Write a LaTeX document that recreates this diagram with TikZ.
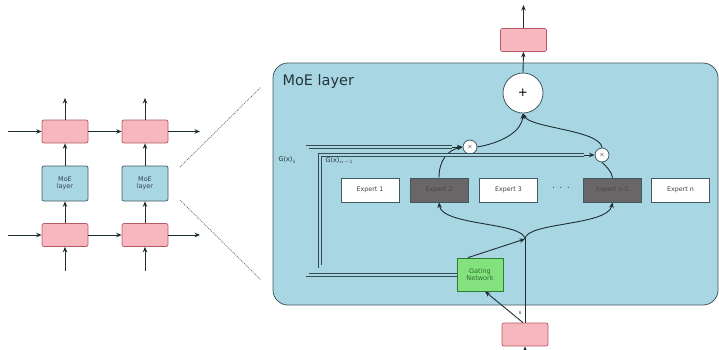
\documentclass[tikz,border=0pt]{standalone}
\usepackage{fontspec}
\setmainfont{DejaVu Sans}
\usetikzlibrary{arrows.meta,calc}
\definecolor{layerblue}{HTML}{A9D6E3}
\definecolor{layeredge}{HTML}{3E5A63}
\definecolor{rnnpink}{HTML}{F6B7BF}
\definecolor{rnnedge}{HTML}{B55A66}
\definecolor{gatefill}{HTML}{84E27E}
\definecolor{gateedge}{HTML}{2E7D32}
\definecolor{gatetext}{HTML}{2E6B2E}
\definecolor{selfill}{HTML}{6A6667}
\definecolor{seltext}{HTML}{4A4546}
\definecolor{inkline}{HTML}{1E2E33}
\tikzset{
  arr/.style={draw=inkline, line width=0.9pt, -{Stealth[length=5.5pt,width=4.5pt]}},
  plain/.style={draw=inkline, line width=0.9pt},
  rnn/.style={draw=rnnedge, fill=rnnpink, line width=0.7pt, rounded corners=2pt,
    minimum width=46pt, minimum height=23pt, inner sep=0pt},
  moesmall/.style={draw=layeredge, fill=layerblue, line width=0.7pt, rounded corners=2pt,
    minimum width=46pt, minimum height=35pt, inner sep=0pt, align=center,
    font=\fontsize{6.5pt}{7.5pt}\selectfont, text=layeredge!80!black},
  expert/.style={draw=layeredge, fill=white, line width=0.7pt,
    minimum width=58pt, minimum height=24pt, inner sep=0pt,
    font=\fontsize{6.3pt}{7.5pt}\selectfont, text=black!75},
  chosen/.style={expert, fill=selfill, text=seltext},
  gatebox/.style={draw=gateedge, fill=gatefill, line width=0.8pt,
    minimum width=46pt, minimum height=33pt, inner sep=0pt, align=center,
    font=\fontsize{6.5pt}{7.5pt}\selectfont, text=gatetext},
  times/.style={circle, draw=layeredge, fill=white, line width=0.8pt,
    minimum size=14pt, inner sep=0pt, font=\fontsize{6pt}{6pt}\selectfont},
  gdouble/.style={draw=layeredge!85!black, line width=0.7pt, double=layerblue, double distance=2.2pt},
  zoomline/.style={draw=black!60, line width=0.9pt, dash pattern=on 0.8pt off 1.2pt},
}
\begin{document}
\begin{tikzpicture}[x=1pt, y=-1pt]
\useasboundingbox (0,0) rectangle (719,349);

% ---------- stacked recurrent layers with MoE in between ----------
\node[rnn] (p11) at (65,131.5) {};
\node[rnn] (p12) at (145,131.5) {};
\node[moesmall] (m1) at (65,183.5) {MoE\\layer};
\node[moesmall] (m2) at (145,183.5) {MoE\\layer};
\node[rnn] (p21) at (65,235) {};
\node[rnn] (p22) at (145,235) {};

\coordinate (inL1) at (8,131.5);
\coordinate (inL2) at (8,235);
\coordinate (outR1) at (200,131.5);
\coordinate (outR2) at (200,235);
\coordinate (top1) at (65,98);
\coordinate (top2) at (145,98);
\coordinate (bot1) at (65,271);
\coordinate (bot2) at (145,271);

\draw[arr] (inL1) -- (p11);
\draw[arr] (p11) -- (p12);
\draw[arr] (p12) -- (outR1);
\draw[arr] (inL2) -- (p21);
\draw[arr] (p21) -- (p22);
\draw[arr] (p22) -- (outR2);
\draw[arr] (bot1) -- (p21);
\draw[arr] (bot2) -- (p22);
\draw[arr] (p21) -- (m1);
\draw[arr] (p22) -- (m2);
\draw[arr] (m1) -- (p11);
\draw[arr] (m2) -- (p12);
\draw[arr] (p11) -- (top1);
\draw[arr] (p12) -- (top2);

% zoom-in guide lines
\coordinate (zA) at (180,167);
\coordinate (zB) at (261,87);
\coordinate (zC) at (180,200);
\coordinate (zD) at (261,280);
\draw[zoomline] (zA) -- (zB);
\draw[zoomline] (zC) -- (zD);

% ---------- the MoE layer in detail ----------
\node[draw=layeredge, fill=layerblue, line width=0.8pt, rounded corners=15pt,
      minimum width=445pt, minimum height=242pt, inner sep=0pt] (layer) at (495.5,184) {};
\node[anchor=west, font=\fontsize{14.5pt}{16pt}\selectfont, text=layeredge!60!black]
      (title) at (279,81) {MoE layer};

\node[circle, draw=layeredge, fill=white, line width=0.8pt, minimum size=40pt,
      inner sep=0pt, font=\fontsize{12pt}{12pt}\selectfont] (sum) at (523,93) {+};
\node[rnn] (pout) at (523.5,40) {};
\coordinate (outTop) at (523.5,5);

\node[times] (lx) at (470,147) {$\times$};
\node[times] (rx) at (602,155) {$\times$};

\node[expert] (e1) at (370,190) {Expert 1};
\node[chosen] (e2) at (439,190) {Expert 2};
\node[expert] (e3) at (508.5,190) {Expert 3};
\node[font=\fontsize{11pt}{11pt}\selectfont, text=inkline] (edots) at (561,188) {$\cdot\,\cdot\,\cdot$};
\node[chosen] (e4) at (612.5,190) {Expert n-1};
\node[expert] (e5) at (680.5,190) {Expert n};

\node[gatebox] (gate) at (480,274.5) {Gating\\Network};
\node[rnn] (pin) at (525,334.5) {};
\coordinate (inBot) at (525,360);
\coordinate (junc) at (525,239);

% input
\draw[arr] (inBot) -- (pin);
\draw[plain] (pin.north) -- (junc);
\draw[arr] ([xshift=-2pt]pin.north) -- ([xshift=5pt]gate.south);
\node[font=\fontsize{5pt}{5pt}\selectfont, text=inkline] (xlab) at (520,313) {x};

% gate output to junction and on to the chosen experts
\draw[arr] ([xshift=-12pt]gate.north) -- (junc);
\draw[arr] (junc) .. controls (524,222) and (442,226) .. (e2.south);
\draw[arr] (junc) .. controls (526,222) and (608,226) .. (e4.south);

% expert outputs to the weighting nodes
\draw[arr] (e2.north) .. controls (439,160) and (448,150) .. (lx.west);
\draw[plain] (e4.north) .. controls (612,172) and (606,166) .. (rx.south);

% weighted outputs summed
\draw[arr] (lx.east) .. controls (505,142) and (522,130) .. (sum.south);
\draw[arr] (rx.north) .. controls (600,130) and (530,128) .. (sum.south);
\draw[arr] (sum.north) -- (pout.south);
\draw[arr] (pout.north) -- (outTop);

% gate weights G(x)_1 ... G(x)_{n-1}
\coordinate (g1end) at (452,147);
\coordinate (g2end) at (584,155);
\draw[gdouble] ([yshift=-0.5pt]gate.west) -| (307.5,147) -- (g1end);
\draw[arr] (g1end) -- (lx.west);
\draw[gdouble] ([yshift=8pt]gate.west) -| (320,155) -- (g2end);
\draw[arr] (g2end) -- (rx.west);
\node[anchor=west, font=\fontsize{6.5pt}{7pt}\selectfont, text=inkline] (glab1) at (275,160) {G(x)$_1$};
\node[anchor=west, font=\fontsize{6.5pt}{7pt}\selectfont, text=inkline] (glab2) at (322,161) {G(x)$_{n-1}$};

\end{tikzpicture}
\end{document}
